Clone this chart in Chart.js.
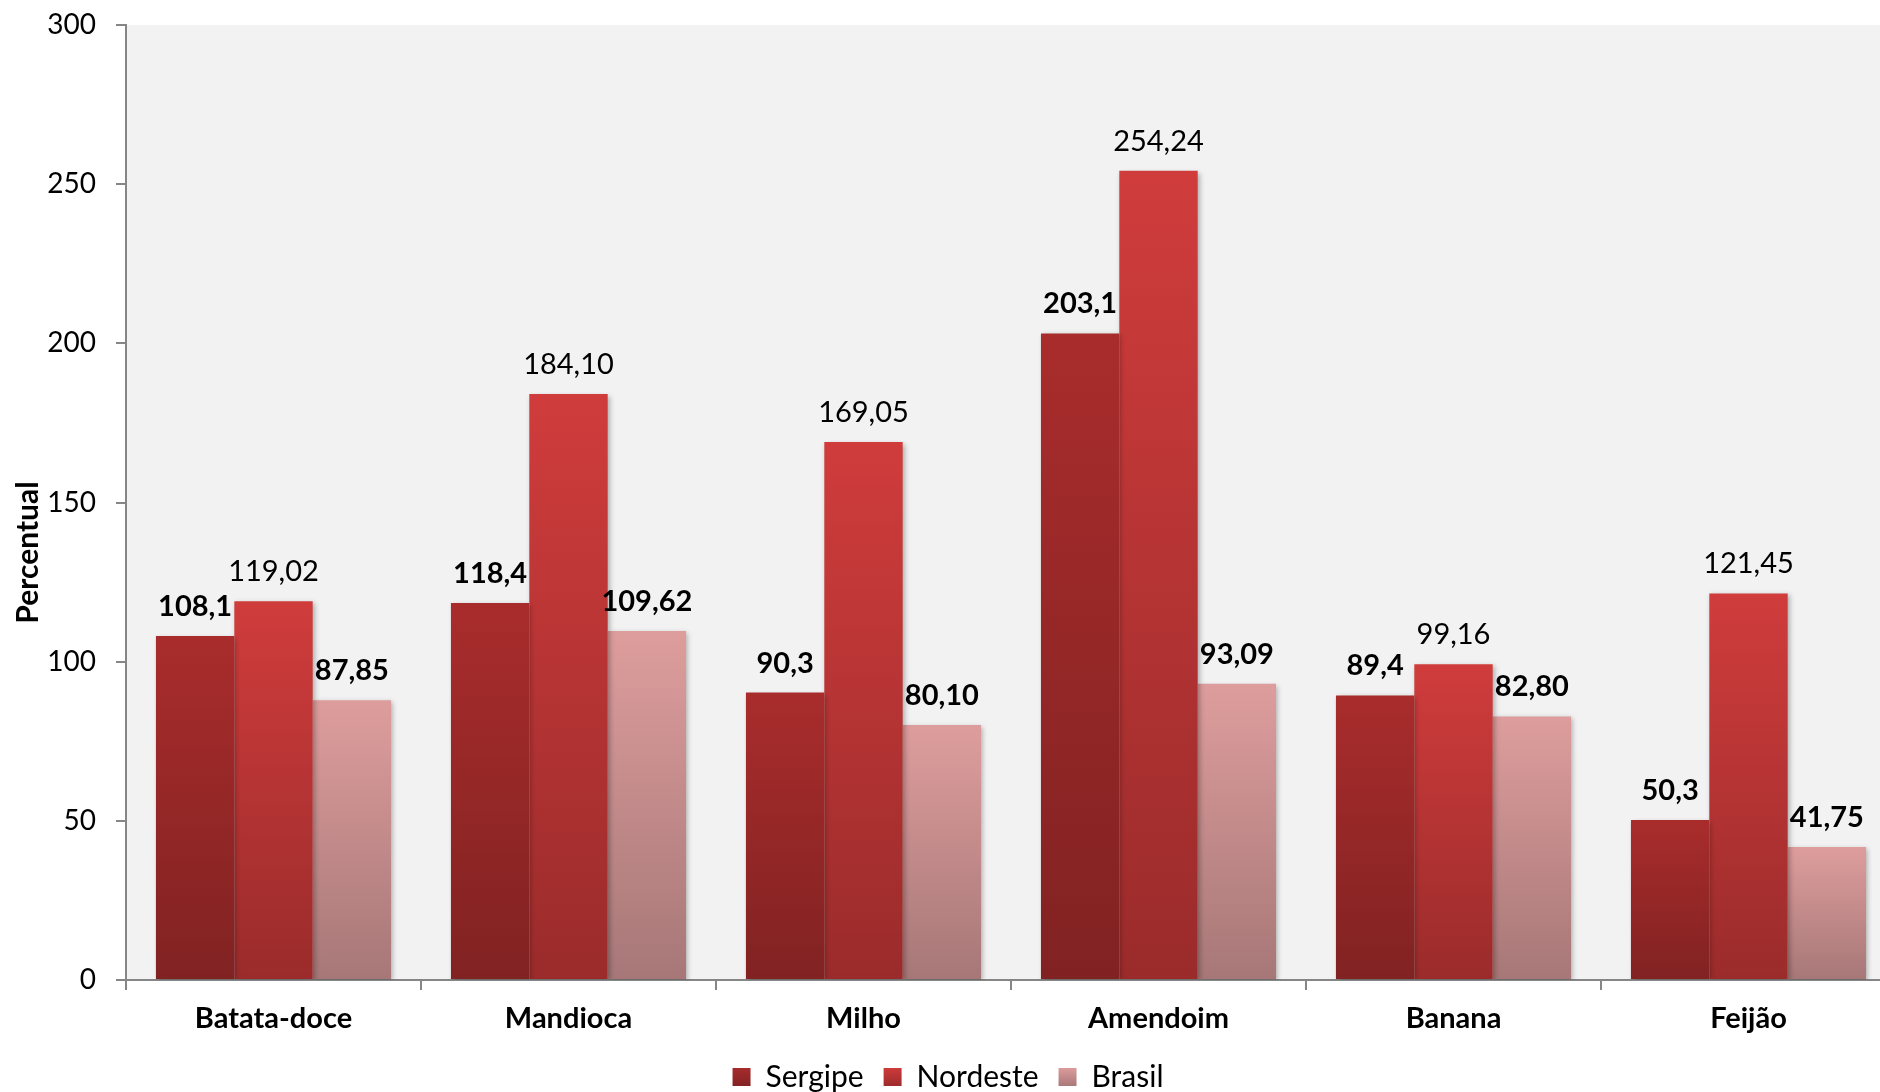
<!DOCTYPE html>
<html>
<head>
<meta charset="utf-8">
<script src="https://cdn.jsdelivr.net/npm/chart.js@4/dist/chart.umd.min.js"></script>
<style>
  html, body { margin: 0; padding: 0; background: #fff; overflow: hidden; }
  #wrap { width: 1916px; height: 1092px; }
</style>
</head>
<body>
<div id="wrap"><canvas id="chart"></canvas></div>
<script>
// Produção por área, Sergipe x Nordeste x Brasil
const CATEGORIES = ["Batata-doce", "Mandioca", "Milho", "Amendoim", "Banana", "Feijão"];
const SERIES_NAMES = ["Sergipe", "Nordeste", "Brasil"];
const SERGIPE = [108.1, 118.4, 90.3, 203.1, 89.4, 50.3];
const NORDESTE = [119.02, 184.10, 169.05, 254.24, 99.16, 121.45];
const BRASIL = [87.85, 109.62, 80.10, 93.09, 82.80, 41.75];
const DECIMALS = [1, 2, 2];
const Y_TICKS = [0, 50, 100, 150, 200, 250, 300];
const Y_TITLE = "Percentual";

// top / bottom colour of each bar's gradient
const GRADS = [["#a92c2c", "#812222"], ["#d03c3c", "#9b2b2b"], ["#de9d9d", "#a77777"]];
const LABEL_BOLD = [true, false, true];
const FONT = "Lato";

function barGradient(top, bottom) {
  return ctx => {
    if (ctx.type !== "data" || !ctx.chart.chartArea) return top;
    const y = ctx.chart.scales.y;
    const y0 = y.getPixelForValue(0), y1 = y.getPixelForValue(ctx.raw);
    const g = ctx.chart.ctx.createLinearGradient(0, y1, 0, y0);
    g.addColorStop(0, top);
    g.addColorStop(1, bottom);
    return g;
  };
}

const plotBg = {
  id: "plotBg",
  beforeDraw(chart) {
    const { ctx, chartArea: a } = chart;
    ctx.save();
    ctx.fillStyle = "#f2f2f2";
    ctx.fillRect(a.left, a.top, a.right - a.left, a.bottom - a.top);
    ctx.restore();
  },
  beforeDatasetsDraw(chart) {
    const ctx = chart.ctx;
    ctx.save();
    ctx.shadowColor = "rgba(0,0,0,0.28)";
    ctx.shadowBlur = 5;
    ctx.shadowOffsetX = 2;
    ctx.shadowOffsetY = 2;
  },
  afterDatasetsDraw(chart) {
    const ctx = chart.ctx;
    ctx.restore();
    ctx.save();
    ctx.fillStyle = "#000";
    ctx.textAlign = "center";
    ctx.textBaseline = "alphabetic";
    chart.data.datasets.forEach((ds, i) => {
      ctx.font = (LABEL_BOLD[i] ? "bold " : "") + "29px " + FONT;
      chart.getDatasetMeta(i).data.forEach((el, j) => {
        const txt = ds.data[j].toFixed(DECIMALS[i]).replace(".", ",");
        ctx.fillText(txt, el.x, el.y - 20);
      });
    });
    ctx.restore();
  },
  // axis title sits a bit below the middle of the axis, as in the original
  afterDraw(chart) {
    const { ctx, chartArea: a } = chart;
    ctx.save();
    ctx.translate(chart.scales.y.left + 28, (a.top + a.bottom) / 2 + 50);
    ctx.rotate(-Math.PI / 2);
    ctx.font = "bold 30px " + FONT;
    ctx.fillStyle = "#000";
    ctx.textAlign = "center";
    ctx.textBaseline = "middle";
    ctx.fillText(Y_TITLE, 0, 0);
    ctx.restore();
  }
};

// legend boxes get the same vertical gradient
const legendGrad = {
  id: "legendGrad",
  beforeDraw(chart) {
    const lg = chart.legend;
    if (!lg || !lg.legendItems) return;
    const hb = lg.legendHitBoxes && lg.legendHitBoxes[0];
    const mid = hb ? hb.top + hb.height / 2 : (lg.top + lg.bottom) / 2;
    lg.legendItems.forEach((item, i) => {
      const g = chart.ctx.createLinearGradient(0, mid - 10, 0, mid + 10);
      g.addColorStop(0, GRADS[i][0]);
      g.addColorStop(1, GRADS[i][1]);
      item.fillStyle = g;
    });
  }
};

const datasets = [SERGIPE, NORDESTE, BRASIL].map((vals, i) => ({
  label: SERIES_NAMES[i],
  data: vals,
  backgroundColor: barGradient(GRADS[i][0], GRADS[i][1]),
  borderWidth: 0,
  barPercentage: 1.0,
  categoryPercentage: 0.797
}));

new Chart(document.getElementById("chart"), {
  type: "bar",
  data: { labels: CATEGORIES, datasets },
  options: {
    responsive: true,
    maintainAspectRatio: false,
    animation: false,
    layout: { padding: { top: 0, right: 20, bottom: -10, left: 0 } },
    plugins: {
      tooltip: { enabled: false },
      legend: {
        position: "bottom",
        labels: {
          font: { family: FONT, size: 30 },
          color: "#000",
          boxWidth: 18,
          boxHeight: 18,
          padding: 20
        }
      }
    },
    scales: {
      x: {
        grid: { drawOnChartArea: false, drawTicks: true, tickLength: 10, color: "#868686", lineWidth: 2, offset: true },
        border: { color: "#868686", width: 2 },
        ticks: { font: { family: FONT, size: 29, weight: "bold" }, color: "#000", padding: 11, maxRotation: 0 },
        afterFit(scale) { scale.height = 62; }
      },
      y: {
        min: 0,
        max: 300,
        afterBuildTicks(scale) { scale.ticks = Y_TICKS.map(v => ({ value: v })); },
        grid: { drawOnChartArea: false, drawTicks: true, tickLength: 10, color: "#868686", lineWidth: 2 },
        border: { color: "#868686", width: 2 },
        ticks: { font: { family: FONT, size: 28, lineHeight: 0.36 }, color: "#000", padding: 20 },
        afterFit(scale) { scale.width = 126; }
      }
    }
  },
  plugins: [plotBg, legendGrad]
});
</script>
</body>
</html>
